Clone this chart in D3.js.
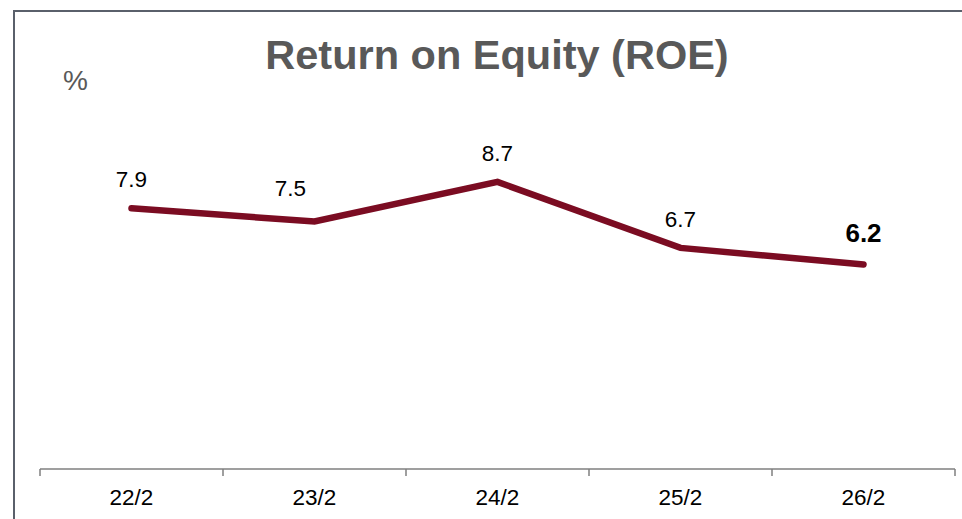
<!DOCTYPE html>
<html><head><meta charset="utf-8">
<script src="https://cdn.jsdelivr.net/npm/d3@7"></script>
<style>body{margin:0;background:#fff}svg{display:block}</style>
</head><body>
<svg id="c" width="962" height="519"></svg>
<script>
const categories = ["22/2","23/2","24/2","25/2","26/2"];
const roeValues = [7.9, 7.5, 8.7, 6.7, 6.2];
const chartTitle = "Return on Equity (ROE)";
const unitLabel = "%";

const svg = d3.select("#c");
const W = 962, H = 519;
const font = "'Liberation Sans', Arial, sans-serif";

// frame
svg.append("path").attr("d", `M14,${H} L14,11 L${W},11`)
  .attr("fill","none").attr("stroke","#5a606b").attr("stroke-width",2);

const x = d3.scaleBand().domain(categories).range([40, 955]).padding(0);
const y = d3.scaleLinear().domain([0, 10]).range([469, 139]);

// axis
const ax = svg.append("g").attr("transform","translate(0,469)")
  .call(d3.axisBottom(x).tickSize(0).tickPadding(0));
ax.select(".domain").attr("stroke","#7f7f7f").attr("stroke-width",1.5).attr("d","M40,0H955");
ax.selectAll(".tick text").remove();
const bounds = categories.map(c => x(c)).concat([x(categories[categories.length-1]) + x.bandwidth()]);
ax.selectAll("line.b").data(bounds).enter().append("line")
  .attr("x1", d => d).attr("x2", d => d).attr("y1", 0).attr("y2", 7)
  .attr("stroke","#7f7f7f").attr("stroke-width",1.5);
svg.append("g").selectAll("text").data(categories).enter().append("text")
  .attr("x", d => x(d) + x.bandwidth()/2).attr("y", 505)
  .attr("text-anchor","middle").attr("font-family",font).attr("font-size",22.5)
  .attr("fill","#000").text(d => d);

// line
const line = d3.line().x((d,i) => x(categories[i]) + x.bandwidth()/2).y(d => y(d));
svg.append("path").datum(roeValues).attr("d", line)
  .attr("fill","none").attr("stroke","#7b0c22").attr("stroke-width",6.5)
  .attr("stroke-linecap","round").attr("stroke-linejoin","miter");

// data labels
const last = roeValues.length - 1;
svg.append("g").selectAll("text").data(roeValues).enter().append("text")
  .attr("x", (d,i) => x(categories[i]) + x.bandwidth()/2 + (i === 1 ? -24 : 0))
  .attr("y", (d,i) => y(d) - (i === 1 ? 26 : (i === last ? 22 : 21)))
  .attr("text-anchor","middle").attr("font-family",font)
  .attr("font-size", (d,i) => i === last ? 26 : 22.5)
  .attr("font-weight", (d,i) => i === last ? "bold" : "normal")
  .attr("fill","#000").text(d => d.toFixed(1));

// title
svg.append("text").attr("x", 497).attr("y", 69).attr("text-anchor","middle")
  .attr("font-family",font).attr("font-size",41.5).attr("font-weight","bold")
  .attr("fill","#595959").text(chartTitle);
svg.append("text").attr("x", 63).attr("y", 90)
  .attr("font-family",font).attr("font-size",28)
  .attr("fill","#595959").text(unitLabel);
</script>
</body></html>
